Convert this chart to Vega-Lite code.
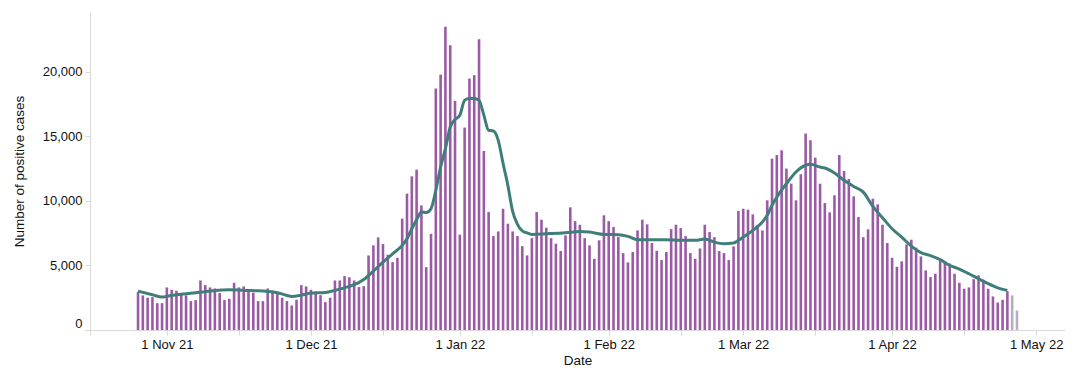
{
  "$schema": "https://vega.github.io/schema/vega-lite/v6.json",
  "width": 975,
  "height": 318,
  "autosize": {"type": "none"},
  "padding": {"left": 90, "top": 12, "right": 15, "bottom": 49},
  "config": {
    "font": "Liberation Sans",
    "view": {"stroke": null},
    "axis": {"labelFont": "Liberation Sans", "titleFont": "Liberation Sans", "labelFontSize": 13, "titleFontSize": 13.5, "titleFontWeight": "normal", "labelColor": "#111", "titleColor": "#111", "domainColor": "#d9d9d9", "tickColor": "#d9d9d9", "grid": false}
  },
  "datasets": {
    "cases": [
      {"date": "2021-10-26", "cases": 2950, "status": "complete"},
      {"date": "2021-10-27", "cases": 2680, "status": "complete"},
      {"date": "2021-10-28", "cases": 2500, "status": "complete"},
      {"date": "2021-10-29", "cases": 2550, "status": "complete"},
      {"date": "2021-10-30", "cases": 2080, "status": "complete"},
      {"date": "2021-10-31", "cases": 2080, "status": "complete"},
      {"date": "2021-11-01", "cases": 3300, "status": "complete"},
      {"date": "2021-11-02", "cases": 3120, "status": "complete"},
      {"date": "2021-11-03", "cases": 3040, "status": "complete"},
      {"date": "2021-11-04", "cases": 2750, "status": "complete"},
      {"date": "2021-11-05", "cases": 2680, "status": "complete"},
      {"date": "2021-11-06", "cases": 2240, "status": "complete"},
      {"date": "2021-11-07", "cases": 2320, "status": "complete"},
      {"date": "2021-11-08", "cases": 3840, "status": "complete"},
      {"date": "2021-11-09", "cases": 3480, "status": "complete"},
      {"date": "2021-11-10", "cases": 3300, "status": "complete"},
      {"date": "2021-11-11", "cases": 3220, "status": "complete"},
      {"date": "2021-11-12", "cases": 2860, "status": "complete"},
      {"date": "2021-11-13", "cases": 2320, "status": "complete"},
      {"date": "2021-11-14", "cases": 2420, "status": "complete"},
      {"date": "2021-11-15", "cases": 3660, "status": "complete"},
      {"date": "2021-11-16", "cases": 3300, "status": "complete"},
      {"date": "2021-11-17", "cases": 3380, "status": "complete"},
      {"date": "2021-11-18", "cases": 3070, "status": "complete"},
      {"date": "2021-11-19", "cases": 2890, "status": "complete"},
      {"date": "2021-11-20", "cases": 2240, "status": "complete"},
      {"date": "2021-11-21", "cases": 2240, "status": "complete"},
      {"date": "2021-11-22", "cases": 3220, "status": "complete"},
      {"date": "2021-11-23", "cases": 2940, "status": "complete"},
      {"date": "2021-11-24", "cases": 2890, "status": "complete"},
      {"date": "2021-11-25", "cases": 2500, "status": "complete"},
      {"date": "2021-11-26", "cases": 2240, "status": "complete"},
      {"date": "2021-11-27", "cases": 1900, "status": "complete"},
      {"date": "2021-11-28", "cases": 2350, "status": "complete"},
      {"date": "2021-11-29", "cases": 3480, "status": "complete"},
      {"date": "2021-11-30", "cases": 3380, "status": "complete"},
      {"date": "2021-12-01", "cases": 3120, "status": "complete"},
      {"date": "2021-12-02", "cases": 2970, "status": "complete"},
      {"date": "2021-12-03", "cases": 2700, "status": "complete"},
      {"date": "2021-12-04", "cases": 2160, "status": "complete"},
      {"date": "2021-12-05", "cases": 2500, "status": "complete"},
      {"date": "2021-12-06", "cases": 3840, "status": "complete"},
      {"date": "2021-12-07", "cases": 3840, "status": "complete"},
      {"date": "2021-12-08", "cases": 4180, "status": "complete"},
      {"date": "2021-12-09", "cases": 4090, "status": "complete"},
      {"date": "2021-12-10", "cases": 3840, "status": "complete"},
      {"date": "2021-12-11", "cases": 3330, "status": "complete"},
      {"date": "2021-12-12", "cases": 3400, "status": "complete"},
      {"date": "2021-12-13", "cases": 5780, "status": "complete"},
      {"date": "2021-12-14", "cases": 6560, "status": "complete"},
      {"date": "2021-12-15", "cases": 7180, "status": "complete"},
      {"date": "2021-12-16", "cases": 6660, "status": "complete"},
      {"date": "2021-12-17", "cases": 5830, "status": "complete"},
      {"date": "2021-12-18", "cases": 5260, "status": "complete"},
      {"date": "2021-12-19", "cases": 5600, "status": "complete"},
      {"date": "2021-12-20", "cases": 8630, "status": "complete"},
      {"date": "2021-12-21", "cases": 10570, "status": "complete"},
      {"date": "2021-12-22", "cases": 11910, "status": "complete"},
      {"date": "2021-12-23", "cases": 12430, "status": "complete"},
      {"date": "2021-12-24", "cases": 9660, "status": "complete"},
      {"date": "2021-12-25", "cases": 4870, "status": "complete"},
      {"date": "2021-12-26", "cases": 7460, "status": "complete"},
      {"date": "2021-12-27", "cases": 18720, "status": "complete"},
      {"date": "2021-12-28", "cases": 19800, "status": "complete"},
      {"date": "2021-12-29", "cases": 23500, "status": "complete"},
      {"date": "2021-12-30", "cases": 22080, "status": "complete"},
      {"date": "2021-12-31", "cases": 17760, "status": "complete"},
      {"date": "2022-01-01", "cases": 7390, "status": "complete"},
      {"date": "2022-01-02", "cases": 15690, "status": "complete"},
      {"date": "2022-01-03", "cases": 19490, "status": "complete"},
      {"date": "2022-01-04", "cases": 19750, "status": "complete"},
      {"date": "2022-01-05", "cases": 22540, "status": "complete"},
      {"date": "2022-01-06", "cases": 13880, "status": "complete"},
      {"date": "2022-01-07", "cases": 9140, "status": "complete"},
      {"date": "2022-01-08", "cases": 7280, "status": "complete"},
      {"date": "2022-01-09", "cases": 7640, "status": "complete"},
      {"date": "2022-01-10", "cases": 9400, "status": "complete"},
      {"date": "2022-01-11", "cases": 8240, "status": "complete"},
      {"date": "2022-01-12", "cases": 7640, "status": "complete"},
      {"date": "2022-01-13", "cases": 7280, "status": "complete"},
      {"date": "2022-01-14", "cases": 6500, "status": "complete"},
      {"date": "2022-01-15", "cases": 5780, "status": "complete"},
      {"date": "2022-01-16", "cases": 7120, "status": "complete"},
      {"date": "2022-01-17", "cases": 9140, "status": "complete"},
      {"date": "2022-01-18", "cases": 8550, "status": "complete"},
      {"date": "2022-01-19", "cases": 7930, "status": "complete"},
      {"date": "2022-01-20", "cases": 7120, "status": "complete"},
      {"date": "2022-01-21", "cases": 6690, "status": "complete"},
      {"date": "2022-01-22", "cases": 6120, "status": "complete"},
      {"date": "2022-01-23", "cases": 7330, "status": "complete"},
      {"date": "2022-01-24", "cases": 9510, "status": "complete"},
      {"date": "2022-01-25", "cases": 8440, "status": "complete"},
      {"date": "2022-01-26", "cases": 8160, "status": "complete"},
      {"date": "2022-01-27", "cases": 7120, "status": "complete"},
      {"date": "2022-01-28", "cases": 6560, "status": "complete"},
      {"date": "2022-01-29", "cases": 5520, "status": "complete"},
      {"date": "2022-01-30", "cases": 6950, "status": "complete"},
      {"date": "2022-01-31", "cases": 8890, "status": "complete"},
      {"date": "2022-02-01", "cases": 8440, "status": "complete"},
      {"date": "2022-02-02", "cases": 7980, "status": "complete"},
      {"date": "2022-02-03", "cases": 7200, "status": "complete"},
      {"date": "2022-02-04", "cases": 5960, "status": "complete"},
      {"date": "2022-02-05", "cases": 5240, "status": "complete"},
      {"date": "2022-02-06", "cases": 6040, "status": "complete"},
      {"date": "2022-02-07", "cases": 7720, "status": "complete"},
      {"date": "2022-02-08", "cases": 8550, "status": "complete"},
      {"date": "2022-02-09", "cases": 8190, "status": "complete"},
      {"date": "2022-02-10", "cases": 6740, "status": "complete"},
      {"date": "2022-02-11", "cases": 6140, "status": "complete"},
      {"date": "2022-02-12", "cases": 5420, "status": "complete"},
      {"date": "2022-02-13", "cases": 6040, "status": "complete"},
      {"date": "2022-02-14", "cases": 7820, "status": "complete"},
      {"date": "2022-02-15", "cases": 8160, "status": "complete"},
      {"date": "2022-02-16", "cases": 7900, "status": "complete"},
      {"date": "2022-02-17", "cases": 7280, "status": "complete"},
      {"date": "2022-02-18", "cases": 5960, "status": "complete"},
      {"date": "2022-02-19", "cases": 5520, "status": "complete"},
      {"date": "2022-02-20", "cases": 6320, "status": "complete"},
      {"date": "2022-02-21", "cases": 8160, "status": "complete"},
      {"date": "2022-02-22", "cases": 7590, "status": "complete"},
      {"date": "2022-02-23", "cases": 7200, "status": "complete"},
      {"date": "2022-02-24", "cases": 6120, "status": "complete"},
      {"date": "2022-02-25", "cases": 5960, "status": "complete"},
      {"date": "2022-02-26", "cases": 5420, "status": "complete"},
      {"date": "2022-02-27", "cases": 6480, "status": "complete"},
      {"date": "2022-02-28", "cases": 9220, "status": "complete"},
      {"date": "2022-03-01", "cases": 9400, "status": "complete"},
      {"date": "2022-03-02", "cases": 9330, "status": "complete"},
      {"date": "2022-03-03", "cases": 8960, "status": "complete"},
      {"date": "2022-03-04", "cases": 8130, "status": "complete"},
      {"date": "2022-03-05", "cases": 7720, "status": "complete"},
      {"date": "2022-03-06", "cases": 10050, "status": "complete"},
      {"date": "2022-03-07", "cases": 13280, "status": "complete"},
      {"date": "2022-03-08", "cases": 13560, "status": "complete"},
      {"date": "2022-03-09", "cases": 13930, "status": "complete"},
      {"date": "2022-03-10", "cases": 12510, "status": "complete"},
      {"date": "2022-03-11", "cases": 11340, "status": "complete"},
      {"date": "2022-03-12", "cases": 10050, "status": "complete"},
      {"date": "2022-03-13", "cases": 12070, "status": "complete"},
      {"date": "2022-03-14", "cases": 15230, "status": "complete"},
      {"date": "2022-03-15", "cases": 14710, "status": "complete"},
      {"date": "2022-03-16", "cases": 13360, "status": "complete"},
      {"date": "2022-03-17", "cases": 11340, "status": "complete"},
      {"date": "2022-03-18", "cases": 9840, "status": "complete"},
      {"date": "2022-03-19", "cases": 9120, "status": "complete"},
      {"date": "2022-03-20", "cases": 10440, "status": "complete"},
      {"date": "2022-03-21", "cases": 13560, "status": "complete"},
      {"date": "2022-03-22", "cases": 12320, "status": "complete"},
      {"date": "2022-03-23", "cases": 11700, "status": "complete"},
      {"date": "2022-03-24", "cases": 10360, "status": "complete"},
      {"date": "2022-03-25", "cases": 8750, "status": "complete"},
      {"date": "2022-03-26", "cases": 7200, "status": "complete"},
      {"date": "2022-03-27", "cases": 7800, "status": "complete"},
      {"date": "2022-03-28", "cases": 10180, "status": "complete"},
      {"date": "2022-03-29", "cases": 9740, "status": "complete"},
      {"date": "2022-03-30", "cases": 8160, "status": "complete"},
      {"date": "2022-03-31", "cases": 6740, "status": "complete"},
      {"date": "2022-04-01", "cases": 5600, "status": "complete"},
      {"date": "2022-04-02", "cases": 4900, "status": "complete"},
      {"date": "2022-04-03", "cases": 5320, "status": "complete"},
      {"date": "2022-04-04", "cases": 6630, "status": "complete"},
      {"date": "2022-04-05", "cases": 7000, "status": "complete"},
      {"date": "2022-04-06", "cases": 6380, "status": "complete"},
      {"date": "2022-04-07", "cases": 5700, "status": "complete"},
      {"date": "2022-04-08", "cases": 4620, "status": "complete"},
      {"date": "2022-04-09", "cases": 4100, "status": "complete"},
      {"date": "2022-04-10", "cases": 4360, "status": "complete"},
      {"date": "2022-04-11", "cases": 5340, "status": "complete"},
      {"date": "2022-04-12", "cases": 5290, "status": "complete"},
      {"date": "2022-04-13", "cases": 5140, "status": "complete"},
      {"date": "2022-04-14", "cases": 4360, "status": "complete"},
      {"date": "2022-04-15", "cases": 3660, "status": "complete"},
      {"date": "2022-04-16", "cases": 3200, "status": "complete"},
      {"date": "2022-04-17", "cases": 3300, "status": "complete"},
      {"date": "2022-04-18", "cases": 3940, "status": "complete"},
      {"date": "2022-04-19", "cases": 4230, "status": "complete"},
      {"date": "2022-04-20", "cases": 3900, "status": "complete"},
      {"date": "2022-04-21", "cases": 3200, "status": "complete"},
      {"date": "2022-04-22", "cases": 2600, "status": "complete"},
      {"date": "2022-04-23", "cases": 2130, "status": "complete"},
      {"date": "2022-04-24", "cases": 2340, "status": "complete"},
      {"date": "2022-04-25", "cases": 3010, "status": "complete"},
      {"date": "2022-04-26", "cases": 2680, "status": "incomplete"},
      {"date": "2022-04-27", "cases": 1510, "status": "incomplete"}
    ],
    "average": [
      {"date": "2021-10-26", "avg": 3010},
      {"date": "2021-10-29", "avg": 2730},
      {"date": "2021-10-31", "avg": 2550},
      {"date": "2021-11-01", "avg": 2620},
      {"date": "2021-11-03", "avg": 2730},
      {"date": "2021-11-05", "avg": 2810},
      {"date": "2021-11-08", "avg": 2930},
      {"date": "2021-11-11", "avg": 3070},
      {"date": "2021-11-14", "avg": 3120},
      {"date": "2021-11-17", "avg": 3070},
      {"date": "2021-11-20", "avg": 3040},
      {"date": "2021-11-22", "avg": 2990},
      {"date": "2021-11-24", "avg": 2890},
      {"date": "2021-11-26", "avg": 2680},
      {"date": "2021-11-27", "avg": 2600},
      {"date": "2021-11-29", "avg": 2700},
      {"date": "2021-12-01", "avg": 2860},
      {"date": "2021-12-04", "avg": 2910},
      {"date": "2021-12-06", "avg": 3070},
      {"date": "2021-12-08", "avg": 3270},
      {"date": "2021-12-10", "avg": 3510},
      {"date": "2021-12-12", "avg": 3920},
      {"date": "2021-12-14", "avg": 4560},
      {"date": "2021-12-16", "avg": 5260},
      {"date": "2021-12-18", "avg": 5910},
      {"date": "2021-12-20", "avg": 6560},
      {"date": "2021-12-21", "avg": 7080},
      {"date": "2021-12-22", "avg": 7850},
      {"date": "2021-12-23", "avg": 8550},
      {"date": "2021-12-24", "avg": 9140},
      {"date": "2021-12-25", "avg": 9100},
      {"date": "2021-12-26", "avg": 9400},
      {"date": "2021-12-27", "avg": 10830},
      {"date": "2021-12-28", "avg": 12630},
      {"date": "2021-12-29", "avg": 14060},
      {"date": "2021-12-30", "avg": 15740},
      {"date": "2021-12-31", "avg": 16310},
      {"date": "2022-01-01", "avg": 16650},
      {"date": "2022-01-02", "avg": 17810},
      {"date": "2022-01-03", "avg": 17940},
      {"date": "2022-01-04", "avg": 17940},
      {"date": "2022-01-05", "avg": 17800},
      {"date": "2022-01-06", "avg": 16650},
      {"date": "2022-01-07", "avg": 15480},
      {"date": "2022-01-08", "avg": 15430},
      {"date": "2022-01-09", "avg": 14700},
      {"date": "2022-01-10", "avg": 12920},
      {"date": "2022-01-11", "avg": 11210},
      {"date": "2022-01-12", "avg": 9200},
      {"date": "2022-01-13", "avg": 8190},
      {"date": "2022-01-14", "avg": 7680},
      {"date": "2022-01-15", "avg": 7530},
      {"date": "2022-01-16", "avg": 7410},
      {"date": "2022-01-19", "avg": 7460},
      {"date": "2022-01-23", "avg": 7540},
      {"date": "2022-01-26", "avg": 7640},
      {"date": "2022-01-28", "avg": 7590},
      {"date": "2022-01-31", "avg": 7410},
      {"date": "2022-02-03", "avg": 7390},
      {"date": "2022-02-05", "avg": 7260},
      {"date": "2022-02-07", "avg": 7000},
      {"date": "2022-02-10", "avg": 7000},
      {"date": "2022-02-13", "avg": 7000},
      {"date": "2022-02-16", "avg": 6950},
      {"date": "2022-02-19", "avg": 6950},
      {"date": "2022-02-21", "avg": 7050},
      {"date": "2022-02-23", "avg": 6810},
      {"date": "2022-02-25", "avg": 6690},
      {"date": "2022-02-27", "avg": 6740},
      {"date": "2022-02-28", "avg": 6950},
      {"date": "2022-03-01", "avg": 7200},
      {"date": "2022-03-03", "avg": 7720},
      {"date": "2022-03-05", "avg": 8370},
      {"date": "2022-03-06", "avg": 8890},
      {"date": "2022-03-07", "avg": 9660},
      {"date": "2022-03-08", "avg": 10300},
      {"date": "2022-03-10", "avg": 11340},
      {"date": "2022-03-12", "avg": 12250},
      {"date": "2022-03-14", "avg": 12770},
      {"date": "2022-03-15", "avg": 12840},
      {"date": "2022-03-17", "avg": 12630},
      {"date": "2022-03-18", "avg": 12560},
      {"date": "2022-03-20", "avg": 12170},
      {"date": "2022-03-22", "avg": 11600},
      {"date": "2022-03-24", "avg": 11130},
      {"date": "2022-03-26", "avg": 10690},
      {"date": "2022-03-28", "avg": 9580},
      {"date": "2022-03-30", "avg": 8700},
      {"date": "2022-04-01", "avg": 7850},
      {"date": "2022-04-03", "avg": 7200},
      {"date": "2022-04-05", "avg": 6500},
      {"date": "2022-04-07", "avg": 6000},
      {"date": "2022-04-09", "avg": 5760},
      {"date": "2022-04-11", "avg": 5450},
      {"date": "2022-04-13", "avg": 5010},
      {"date": "2022-04-15", "avg": 4720},
      {"date": "2022-04-17", "avg": 4360},
      {"date": "2022-04-19", "avg": 3970},
      {"date": "2022-04-21", "avg": 3590},
      {"date": "2022-04-23", "avg": 3270},
      {"date": "2022-04-25", "avg": 3070}
    ]
  },
  "layer": [
    {
      "data": {"name": "cases"},
      "mark": {"type": "bar", "width": 2.6},
      "encoding": {
        "x": {
          "field": "date",
          "type": "temporal",
          "title": "Date",
          "scale": {"type": "utc", "padding": 0, "domain": [{"year": 2021, "month": 10, "date": 16, "utc": true}, {"year": 2022, "month": 5, "date": 7, "utc": true}]},
          "axis": {
            "values": [
              {"year": 2021, "month": 10, "date": 16, "utc": true},
              {"year": 2021, "month": 11, "date": 1, "utc": true},
              {"year": 2021, "month": 11, "date": 16, "utc": true},
              {"year": 2021, "month": 12, "date": 1, "utc": true},
              {"year": 2021, "month": 12, "date": 16, "utc": true},
              {"year": 2022, "month": 1, "date": 1, "utc": true},
              {"year": 2022, "month": 1, "date": 16, "utc": true},
              {"year": 2022, "month": 2, "date": 1, "utc": true},
              {"year": 2022, "month": 2, "date": 16, "utc": true},
              {"year": 2022, "month": 3, "date": 1, "utc": true},
              {"year": 2022, "month": 3, "date": 16, "utc": true},
              {"year": 2022, "month": 4, "date": 1, "utc": true},
              {"year": 2022, "month": 4, "date": 16, "utc": true},
              {"year": 2022, "month": 5, "date": 1, "utc": true}
            ],
            "labelExpr": "utcFormat(datum.value, '%d') == '01' ? utcFormat(datum.value, '%-d %b %y') : ''",
            "labelOverlap": false,
            "labelFlush": false,
            "labelPadding": 3,
            "titlePadding": 2
          }
        },
        "y": {
          "field": "cases",
          "type": "quantitative",
          "title": "Number of positive cases",
          "scale": {"domain": [0, 24650], "nice": false},
          "axis": {"values": [0, 5000, 10000, 15000, 20000], "format": ",d", "labelFlush": true, "labelPadding": 3, "titlePadding": 16}
        },
        "color": {
          "field": "status",
          "type": "nominal",
          "scale": {"domain": ["complete", "incomplete"], "range": ["#9b5aa5", "#b3afc3"]},
          "legend": null
        }
      }
    },
    {
      "data": {"name": "average"},
      "mark": {"type": "line", "color": "#3f7e7a", "strokeWidth": 3, "interpolate": "monotone"},
      "encoding": {
        "x": {"field": "date", "type": "temporal"},
        "y": {"field": "avg", "type": "quantitative"}
      }
    }
  ]
}
